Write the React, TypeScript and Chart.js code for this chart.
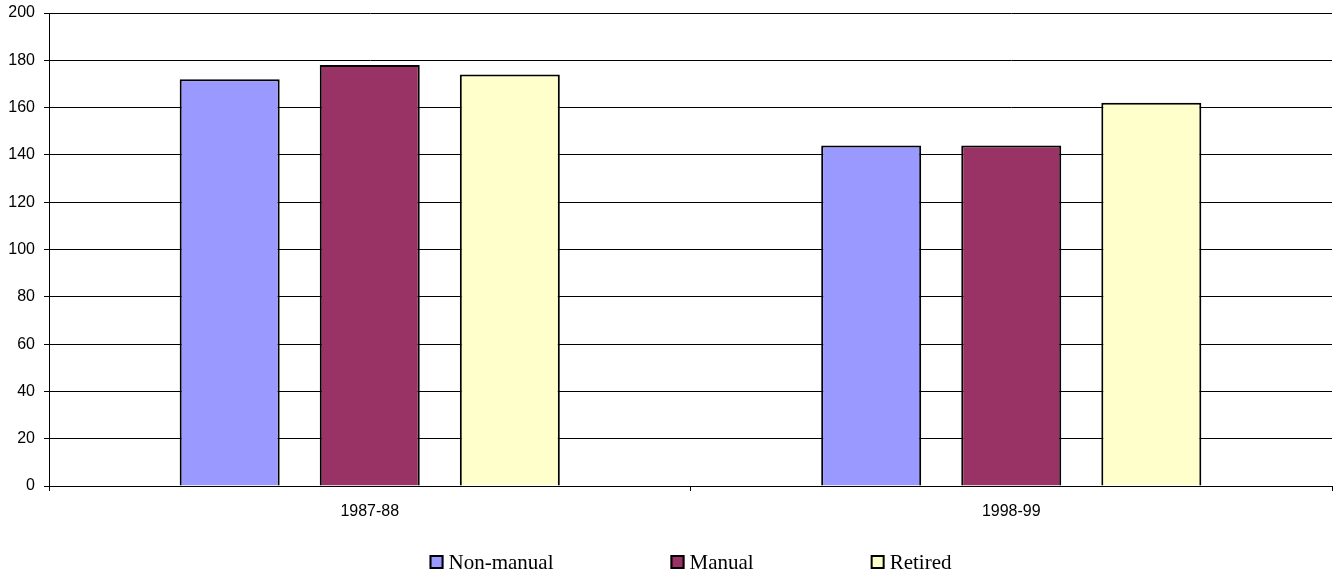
import React, { useEffect, useRef } from "react";
import { Chart, registerables } from "chart.js";

Chart.register(...registerables);

const categories = ["1987-88", "1998-99"];
const nonManual = [172, 144];
const manual = [178, 144];
const retired = [174, 162];
const seriesLabels = ["Non-manual", "Manual", "Retired"];
const seriesColors = ["#9999FF", "#993366", "#FFFFCC"];
const yMin = 0;
const yMax = 200;
const yStep = 20;

const legendPlugin = {
  id: "excelLegend",
  afterDraw(chart: any) {
    const ctx = chart.ctx;
    const area = chart.chartArea;
    const font = "21px 'Liberation Serif', 'Times New Roman', serif";
    const box = 14;
    const gapText = 5;
    const gapItem = 117;
    ctx.save();
    ctx.font = font;
    const items = chart.data.datasets.map((ds: any) => ({
      text: ds.label,
      color: ds.backgroundColor,
      w: box + gapText + ctx.measureText(ds.label).width,
    }));
    const total = items.reduce((s: number, it: any) => s + it.w, 0) + gapItem * (items.length - 1);
    let x = (area.left + area.right) / 2 - total / 2;
    const cy = 562;
    items.forEach((it: any) => {
      ctx.fillStyle = it.color;
      ctx.fillRect(x, cy - box / 2, box, box);
      ctx.strokeStyle = "#000";
      ctx.lineWidth = 2;
      ctx.strokeRect(x + 1, cy - box / 2 + 1, box - 2, box - 2);
      ctx.fillStyle = "#000";
      ctx.textBaseline = "middle";
      ctx.textAlign = "left";
      ctx.fillText(it.text, x + box + gapText, cy + 1);
      x += it.w + gapItem;
    });
    ctx.restore();
  },
};

export default function App() {
  const ref = useRef<HTMLCanvasElement | null>(null);
  useEffect(() => {
    if (!ref.current) return;
    const values = [nonManual, manual, retired];
    const chart = new Chart(ref.current, {
      type: "bar",
      data: {
        labels: categories,
        datasets: seriesLabels.map((label, i) => ({
          label,
          data: values[i],
          backgroundColor: seriesColors[i],
          borderColor: "#000",
          borderWidth: 2,
          categoryPercentage: 0.655,
          barPercentage: 0.714,
        })),
      },
      options: {
        animation: false,
        responsive: false,
        maintainAspectRatio: false,
        layout: { padding: { left: 0, top: 13, right: 10, bottom: 60 } },
        plugins: {
          legend: { display: false },
          tooltip: { enabled: false },
        },
        scales: {
          x: {
            offset: true,
            grid: {
              offset: true,
              drawOnChartArea: false,
              drawTicks: true,
              tickLength: 5,
              color: "#000",
            },
            border: { color: "#000", width: 1 },
            ticks: {
              color: "#000",
              padding: 11,
              font: { family: "'Liberation Sans', Arial, sans-serif", size: 16 },
            },
            afterFit: (s: any) => {
              s.height = 32;
              s.paddingLeft = 0;
              s.paddingRight = 0;
            },
          },
          y: {
            min: yMin,
            max: yMax,
            ticks: {
              stepSize: yStep,
              color: "#000",
              padding: 9,
              font: { family: "'Liberation Sans', Arial, sans-serif", size: 16 },
            },
            grid: { color: "#000", tickLength: 5, lineWidth: 1 },
            border: { color: "#000", width: 1 },
            afterFit: (s: any) => {
              s.width = 49;
              s.paddingTop = 0;
              s.paddingBottom = 0;
            },
          },
        },
      },
      plugins: [legendPlugin],
    });
    return () => chart.destroy();
  }, []);
  return (
    <div style={{ position: "absolute", left: 0, top: 0, width: 1342, height: 578, background: "#fff" }}>
      <canvas ref={ref} width={1342} height={578} style={{ width: 1342, height: 578, display: "block" }} />
    </div>
  );
}
